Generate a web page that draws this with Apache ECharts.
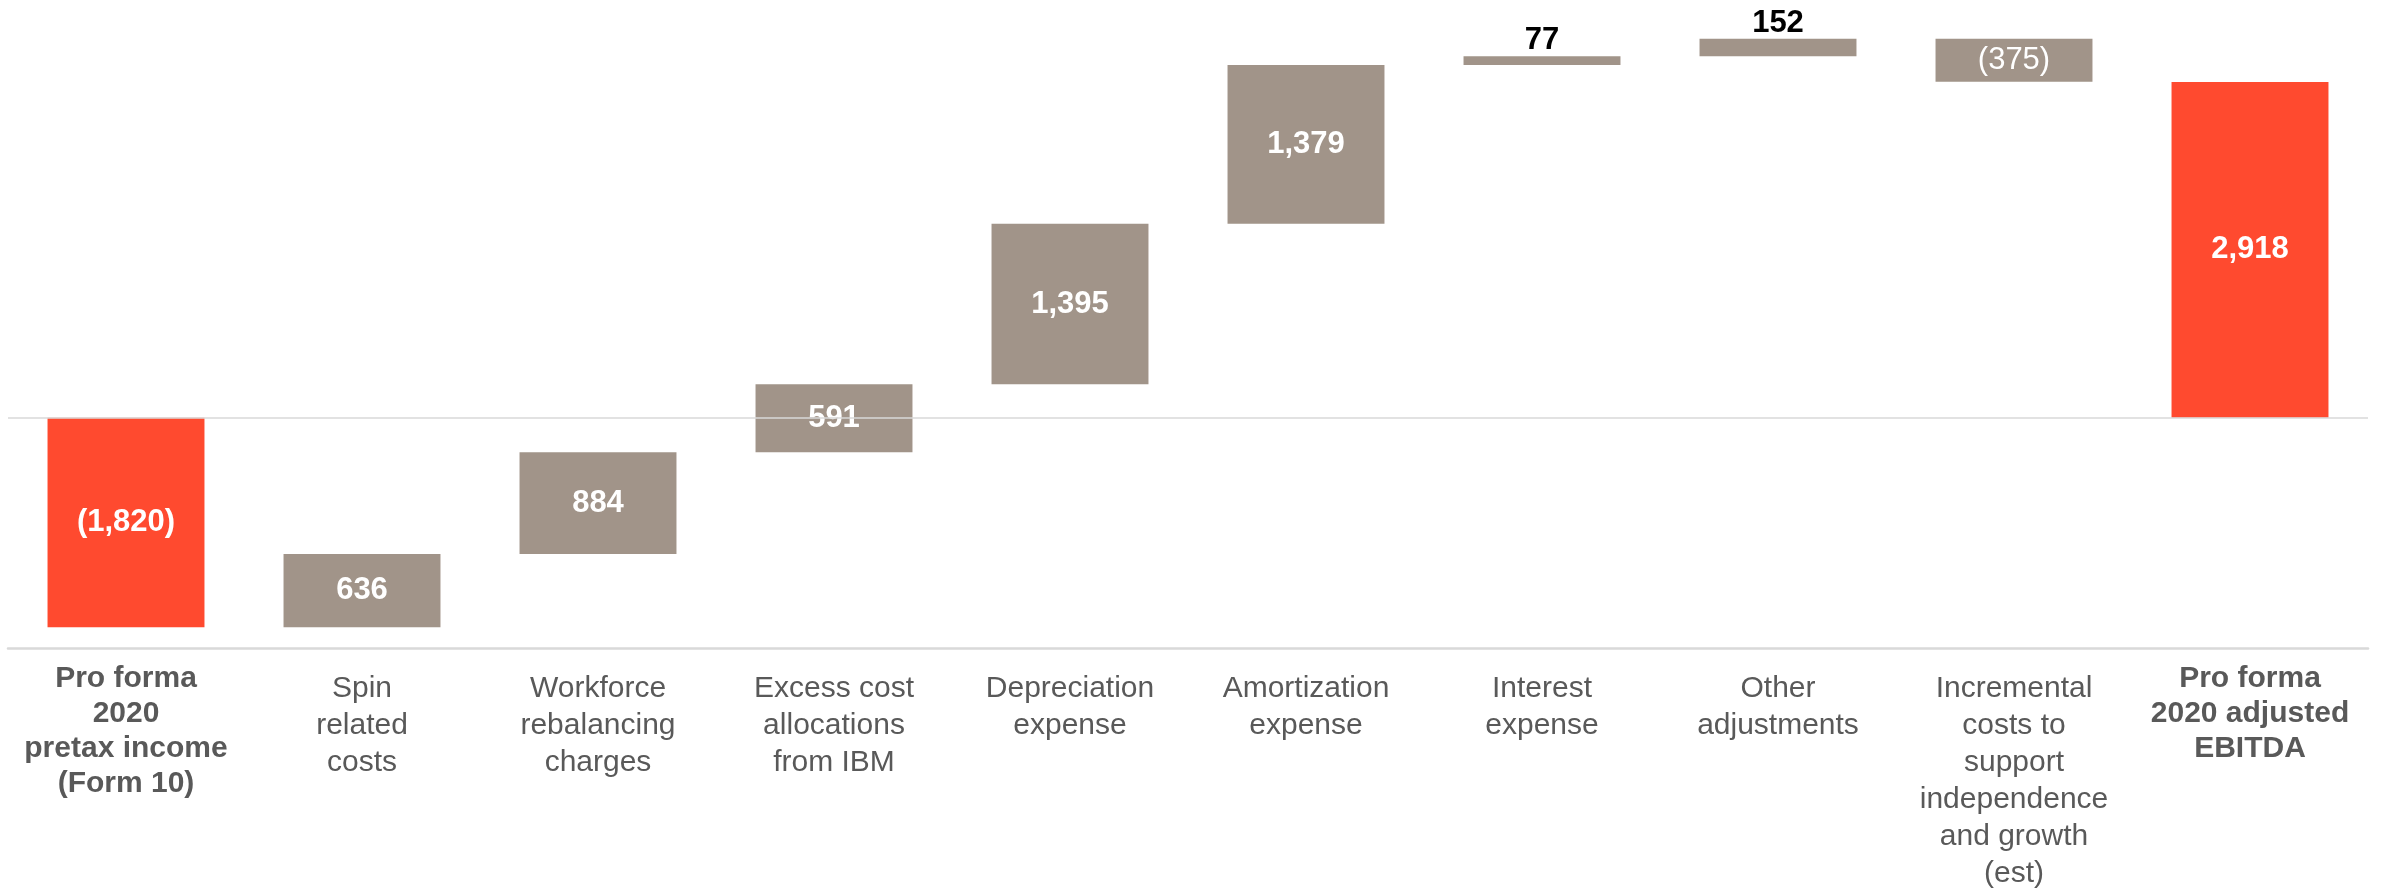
<!DOCTYPE html>
<html>
<head>
<meta charset="utf-8">
<script src="https://cdn.jsdelivr.net/npm/echarts@6/dist/echarts.min.js"></script>
<style>
html,body{margin:0;padding:0;background:#fff;}
#chart{width:2402px;height:892px;}
</style>
</head>
<body>
<div id="chart"></div>
<script>
const categories = [
  'Pro forma\n2020\npretax income\n(Form 10)',
  'Spin\nrelated\ncosts',
  'Workforce\nrebalancing\ncharges',
  'Excess cost\nallocations\nfrom IBM',
  'Depreciation\nexpense',
  'Amortization\nexpense',
  'Interest\nexpense',
  'Other\nadjustments',
  'Incremental\ncosts to\nsupport\nindependence\nand growth\n(est)',
  'Pro forma\n2020 adjusted\nEBITDA'
];
const values = [-1820, 636, 884, 591, 1395, 1379, 77, 152, -375, 2918];
const isTotal = [true, false, false, false, false, false, false, false, false, true];

const RED = '#FF4A2F';
const GREY = '#A19489';
const FONT = 'Liberation Sans, Arial, sans-serif';

function fmt(v) {
  const s = Math.abs(v).toLocaleString('en-US');
  return v < 0 ? '(' + s + ')' : s;
}

// build waterfall ranges
const wfData = [];
let running = 0;
values.forEach((v, i) => {
  let start, end;
  if (isTotal[i]) { start = 0; end = v; running = v; }
  else { start = running; end = running + v; running = end; }
  wfData.push([i, Math.min(start, end), Math.max(start, end), v]);
});

const chart = echarts.init(document.getElementById('chart'));
chart.setOption({
  animation: false,
  grid: { left: 8, right: 34, top: 15, height: 634 },
  xAxis: [
    {
      type: 'category',
      data: categories,
      position: 'bottom',
      axisTick: { show: false },
      axisLine: { onZero: false, lineStyle: { color: '#D9D9D9', width: 2.5 } },
      axisLabel: {
        interval: 0,
        margin: 22,
        color: '#595959',
        fontFamily: FONT,
        fontSize: 30,
        lineHeight: 37,
        formatter: function (val, idx) { return isTotal[idx] ? '' : val; }
      }
    },
    {
      type: 'category',
      data: categories,
      position: 'bottom',
      axisTick: { show: false },
      axisLine: { show: false, onZero: false },
      axisLabel: {
        interval: 0,
        margin: 13,
        color: '#595959',
        fontFamily: FONT,
        fontSize: 30,
        fontWeight: 'bold',
        lineHeight: 35,
        formatter: function (val, idx) { return isTotal[idx] ? val : ''; }
      }
    }
  ],
  yAxis: {
    type: 'value', min: -2000, max: 3500, show: false,
    splitLine: { show: false }
  },
  series: [
    {
      type: 'custom',
      xAxisIndex: 0,
      data: wfData,
      encode: { x: 0, y: [1, 2] },
      renderItem: function (params, api) {
        const i = api.value(0), lo = api.value(1), hi = api.value(2), v = api.value(3);
        const pTop = api.coord([i, hi]);
        const pBot = api.coord([i, lo]);
        const w = api.size([1, 0])[0] * 0.665;
        const small = Math.abs(v) < 200;
        const total = isTotal[i];
        return {
          type: 'rect',
          shape: { x: pTop[0] - w / 2, y: pTop[1], width: w, height: pBot[1] - pTop[1] },
          style: { fill: total ? RED : GREY },
          textContent: {
            style: {
              text: fmt(v),
              fill: small ? '#000000' : '#FFFFFF',
              fontFamily: FONT,
              fontSize: 31,
              fontWeight: (v < 0 && !total) ? 'normal' : 'bold'
            }
          },
          textConfig: { position: small ? 'top' : 'inside', distance: 0 }
        };
      }
    },
    {
      type: 'line',
      xAxisIndex: 0,
      data: [],
      silent: true,
      markLine: {
        silent: true,
        symbol: 'none',
        label: { show: false },
        lineStyle: { color: '#D9D9D9', width: 1.5, type: 'solid' },
        data: [{ yAxis: 0 }]
      }
    }
  ]
});
</script>
</body>
</html>
